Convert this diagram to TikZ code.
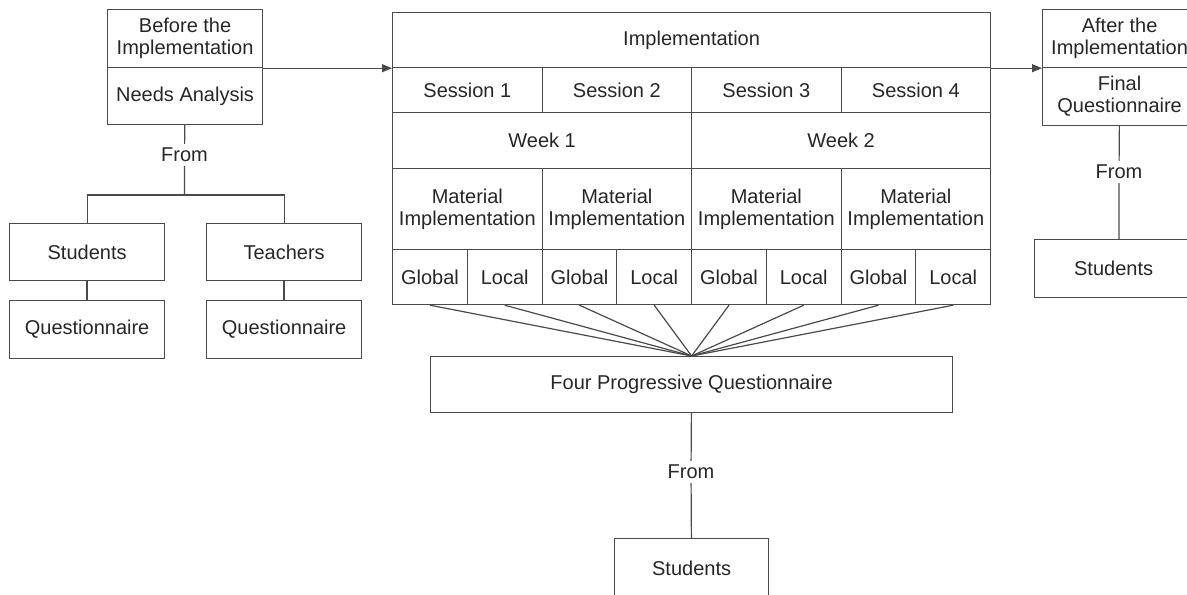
\documentclass[tikz,border=0pt]{standalone}
\usepackage{fontspec}
\setmainfont{Liberation Sans}
\usetikzlibrary{arrows.meta, positioning}
\definecolor{lineGray}{HTML}{4a4a4a}
\definecolor{textGray}{HTML}{262626}
\def\implL{392}
\def\sessW{149.5}
\def\weekW{299}
\def\glW{74.75}

\begin{document}
\begin{tikzpicture}[x=0.75pt, y=-0.75pt,
    cellBox/.style 2 args={draw=lineGray, line width=0.9pt, text=textGray,
        align=center, inner sep=1pt, anchor=north west,
        minimum width=#1*0.75pt, minimum height=#2*0.75pt,
        font=\fontsize{15}{16.5}\selectfont},
    fromLabel/.style={text=textGray, inner sep=3pt,
        font=\fontsize{15}{16.5}\selectfont},
    link/.style={draw=lineGray, line width=0.9pt},
    thickLink/.style={draw=lineGray, line width=1.6pt},
    flow/.style={link, -{Triangle[length=7.5pt, width=6pt]}}]

    \useasboundingbox (0,0) rectangle (1187,595);
    \clip (0,0) rectangle (1187,595);

    % ==========================================================
    % 1. BEFORE THE IMPLEMENTATION
    % ==========================================================
    \node[cellBox={155}{58}] (beforeBox) at (107,9) {Before the\\Implementation};
    \node[cellBox={155}{57}] (needsBox) at (107,67) {Needs Analysis};
    \node[fromLabel] (fromL) at (184.5,155) {From};
    \coordinate (branchL) at (184.5,195);

    \node[cellBox={155}{57}] (studentsL) at (9,223) {Students};
    \node[cellBox={155}{57}] (teachersL) at (206,223) {Teachers};
    \node[cellBox={155}{58}] (questL) at (9,300) {Questionnaire};
    \node[cellBox={155}{58}] (questT) at (206,300) {Questionnaire};

    \draw[link] (needsBox) -- (fromL) -- (branchL);
    \draw[link] (studentsL.north) |- (branchL) -| (teachersL.north);
    \draw[thickLink] (studentsL) -- (questL);
    \draw[thickLink] (teachersL) -- (questT);

    % ==========================================================
    % 2. IMPLEMENTATION GRID
    % ==========================================================
    \node[cellBox={598}{55}] (implBox) at (\implL,12) {Implementation};
    \foreach \i in {1,...,4}
        \node[cellBox={\sessW}{45}] (sess\i) at ({\implL+(\i-1)*\sessW},67) {Session \i};
    \foreach \i in {1,2}
        \node[cellBox={\weekW}{56}] (week\i) at ({\implL+(\i-1)*\weekW},112) {Week \i};
    \foreach \i in {1,...,4}
        \node[cellBox={\sessW}{81}] (mat\i) at ({\implL+(\i-1)*\sessW},168)
            {Material\\Implementation};
    \foreach \lbl [count=\k] in {Global,Local,Global,Local,Global,Local,Global,Local}
        \node[cellBox={\glW}{55}] (gl\k) at ({\implL+(\k-1)*\glW},249) {\lbl};

    % ==========================================================
    % 3. PROGRESSIVE QUESTIONNAIRE
    % ==========================================================
    \node[cellBox={522}{56}] (fourBox) at (430,356) {Four Progressive Questionnaire};
    \foreach \k in {1,...,8}
        \draw[link] (gl\k.south) -- (fourBox.north);

    \node[fromLabel] (fromB) at (691,472) {From};
    \node[cellBox={154}{60}] (studentsB) at (614,538) {Students};
    \draw[link] (fourBox) -- (fromB) -- (studentsB);

    % ==========================================================
    % 4. AFTER THE IMPLEMENTATION
    % ==========================================================
    \node[cellBox={154}{58}] (afterBox) at (1042,9) {After the\\Implementation};
    \node[cellBox={154}{58}] (finalBox) at (1042,67) {Final\\Questionnaire};
    \node[fromLabel] (fromR) at (1119,172) {From};
    \node[cellBox={158}{58}] (studentsR) at (1034,239) {Students};
    \draw[link] (finalBox) -- (fromR) -- (studentsR.north -| fromR);

    % ==========================================================
    % 5. FLOW ARROWS
    % ==========================================================
    \draw[flow] (beforeBox.south east) -- (implBox.south west);
    \draw[flow] (implBox.south east) -- (afterBox.south west);

\end{tikzpicture}
\end{document}
